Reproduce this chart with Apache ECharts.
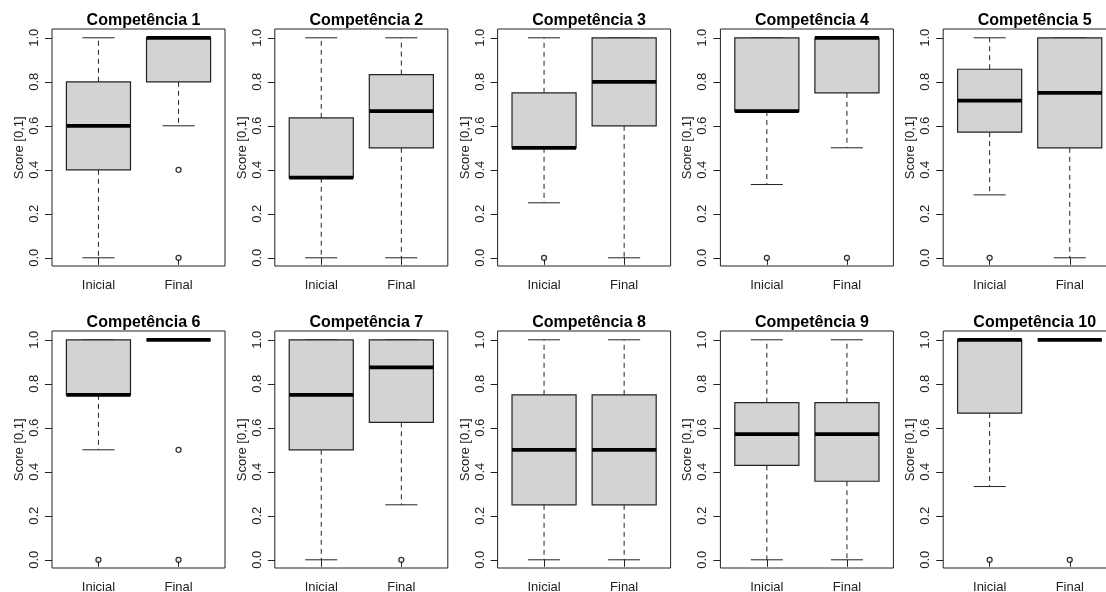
<!DOCTYPE html>
<html>
<head>
<meta charset="utf-8">
<title>Competências</title>
<script src="https://cdn.jsdelivr.net/npm/echarts@6/dist/echarts.min.js"></script>
<style>
  html, body { margin: 0; padding: 0; background: #fff; }
  #main { width: 1106px; height: 592px; }
</style>
</head>
<body>
<div id="main"></div>
<script>
// categorias e rótulos
var categories = ['Inicial', 'Final'];
var titles = ['Competência 1', 'Competência 2', 'Competência 3', 'Competência 4', 'Competência 5',
              'Competência 6', 'Competência 7', 'Competência 8', 'Competência 9', 'Competência 10'];

// [min, Q1, mediana, Q3, max] por competência
var inicialStats = [
  [0, 0.4, 0.6, 0.8, 1],
  [0, 0.364, 0.364, 0.636, 1],
  [0.25, 0.5, 0.5, 0.75, 1],
  [0.333, 0.667, 0.667, 1, 1],
  [0.286, 0.571, 0.714, 0.857, 1],
  [0.5, 0.75, 0.75, 1, 1],
  [0, 0.5, 0.75, 1, 1],
  [0, 0.25, 0.5, 0.75, 1],
  [0, 0.429, 0.571, 0.714, 1],
  [0.333, 0.667, 1, 1, 1]
];
var finalStats = [
  [0.6, 0.8, 1, 1, 1],
  [0, 0.5, 0.667, 0.833, 1],
  [0, 0.6, 0.8, 1, 1],
  [0.5, 0.75, 1, 1, 1],
  [0, 0.5, 0.75, 1, 1],
  [1, 1, 1, 1, 1],
  [0.25, 0.625, 0.875, 1, 1],
  [0, 0.25, 0.5, 0.75, 1],
  [0, 0.357, 0.571, 0.714, 1],
  [1, 1, 1, 1, 1]
];
// pontos atípicos
var inicialOutliers = [[], [], [0], [0], [0], [0], [], [], [], [0]];
var finalOutliers = [[0.4, 0], [], [], [0], [], [0.5, 0], [0], [], [], [0]];

var FONT = "'Liberation Sans', Arial, Helvetica, sans-serif";
var chart = echarts.init(document.getElementById('main'));

// desenha uma caixa estilo R
function renderBox(params, api) {
  var x = api.value(0);
  var lo = api.coord([x, api.value(1)]);
  var q1 = api.coord([x, api.value(2)]);
  var md = api.coord([x, api.value(3)]);
  var q3 = api.coord([x, api.value(4)]);
  var hi = api.coord([x, api.value(5)]);
  var band = api.size([1, 0])[0];
  var half = band * 0.4;
  var cap = band * 0.2;
  var cx = lo[0];
  var dashStyle = { stroke: '#222', lineWidth: 1, lineDash: [5, 4] };
  var solid = { stroke: '#222', lineWidth: 1 };
  return {
    type: 'group',
    children: [
      { type: 'line', shape: { x1: cx, y1: q3[1], x2: cx, y2: hi[1] }, style: dashStyle },
      { type: 'line', shape: { x1: cx, y1: q1[1], x2: cx, y2: lo[1] }, style: dashStyle },
      { type: 'line', shape: { x1: cx - cap, y1: hi[1], x2: cx + cap, y2: hi[1] }, style: solid },
      { type: 'line', shape: { x1: cx - cap, y1: lo[1], x2: cx + cap, y2: lo[1] }, style: solid },
      { type: 'rect', shape: { x: cx - half, y: q3[1], width: half * 2, height: q1[1] - q3[1] },
        style: { fill: '#d3d3d3', stroke: '#222', lineWidth: 1.2 } },
      { type: 'line', shape: { x1: cx - half, y1: md[1], x2: cx + half, y2: md[1] },
        style: { stroke: '#000', lineWidth: 3.8 } }
    ]
  };
}

var grids = [], xAxes = [], yAxes = [], series = [], titleList = [];
for (var i = 0; i < 10; i++) {
  var col = i % 5, row = Math.floor(i / 5);
  var gLeft = 52 + 222.8 * col;
  var gTop = 29 + 302 * row;
  // moldura (faixa estendida 4%)
  grids.push({
    left: gLeft, top: gTop, width: 173, height: 237,
    show: true, borderColor: '#222', borderWidth: 1, backgroundColor: 'transparent',
    outerBoundsMode: 'none'
  });
  // área dos dados
  grids.push({
    left: gLeft + 6.4, top: gTop + 8.8, width: 160.2, height: 220,
    outerBoundsMode: 'none'
  });
  titleList.push({
    text: titles[i], left: gLeft + 86.5, top: gTop - 21, textAlign: 'center',
    textStyle: { fontFamily: FONT, fontSize: 16, fontWeight: 'bold', color: '#000' }
  });
  xAxes.push({
    type: 'category', gridIndex: 2 * i + 1, data: categories, boundaryGap: true,
    position: 'bottom', offset: 8.8,
    splitLine: { show: false }, axisLine: { show: false },
    axisTick: { show: true, alignWithLabel: true, length: 7, lineStyle: { color: '#222' } },
    axisLabel: { margin: 12, color: '#222', fontFamily: FONT, fontSize: 13 }
  });
  yAxes.push({
    type: 'value', gridIndex: 2 * i + 1, min: 0, max: 1, interval: 0.2,
    position: 'left', offset: 6.4,
    name: 'Score [0,1]', nameLocation: 'middle', nameGap: 26, nameRotate: 90,
    nameTextStyle: { fontFamily: FONT, fontSize: 13, color: '#222' },
    splitLine: { show: false }, axisLine: { show: false },
    axisTick: { show: true, length: 7, lineStyle: { color: '#222' } },
    axisLabel: {
      rotate: 90, margin: 11, color: '#222', fontFamily: FONT, fontSize: 13,
      formatter: function (v) { return v.toFixed(1); }
    }
  });
  series.push({
    type: 'custom', xAxisIndex: i, yAxisIndex: i,
    renderItem: renderBox,
    encode: { x: 0, y: [1, 2, 3, 4, 5] },
    data: [[0].concat(inicialStats[i]), [1].concat(finalStats[i])],
    silent: true
  });
  var pts = [];
  inicialOutliers[i].forEach(function (v) { pts.push([0, v]); });
  finalOutliers[i].forEach(function (v) { pts.push([1, v]); });
  series.push({
    type: 'scatter', xAxisIndex: i, yAxisIndex: i,
    symbol: 'circle', symbolSize: 5,
    itemStyle: { color: '#fff', borderColor: '#000', borderWidth: 1.3 },
    data: pts, silent: true, z: 5
  });
}

var option = {
  animation: false,
  backgroundColor: '#fff',
  title: titleList,
  grid: grids,
  xAxis: xAxes,
  yAxis: yAxes,
  series: series
};
chart.setOption(option);
</script>
</body>
</html>
